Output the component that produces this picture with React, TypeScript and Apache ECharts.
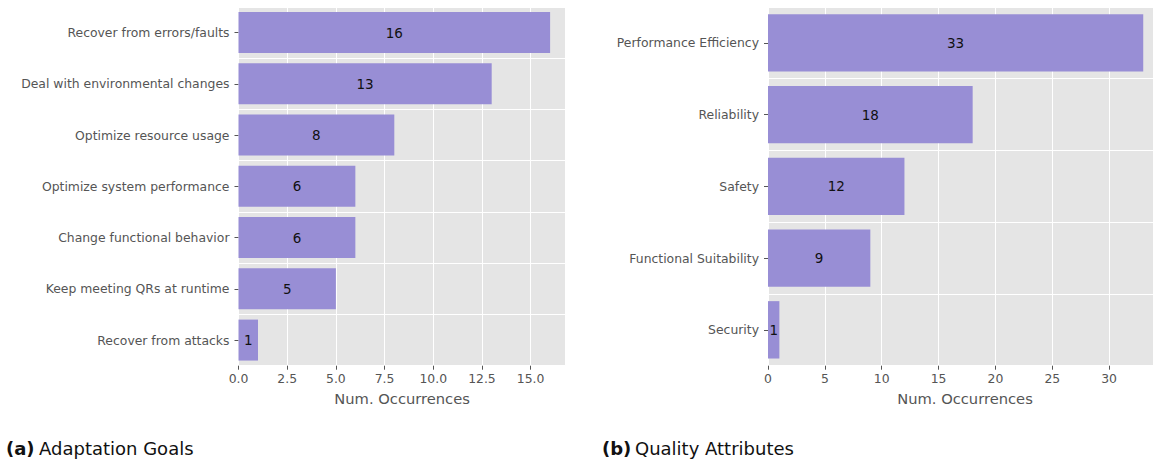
import React, { useEffect, useRef } from "react";
import * as echarts from "echarts";

const goalCategories = [
  "Recover from errors/faults",
  "Deal with environmental changes",
  "Optimize resource usage",
  "Optimize system performance",
  "Change functional behavior",
  "Keep meeting QRs at runtime",
  "Recover from attacks",
];
const goalValues = [16, 13, 8, 6, 6, 5, 1];

const qaCategories = [
  "Performance Efficiency",
  "Reliability",
  "Safety",
  "Functional Suitability",
  "Security",
];
const qaValues = [33, 18, 12, 9, 1];

const xAxisName = "Num. Occurrences";
const captionA = ["(a)", "Adaptation Goals"];
const captionB = ["(b)", "Quality Attributes"];

const BAR = "#988ED5";
const BG = "#E5E5E5";
const TXT = "#555555";
const FONT = "DejaVu Sans";

export default function App() {
  const ref = useRef<HTMLDivElement>(null);
  useEffect(() => {
    if (!ref.current) return;
    const chart = echarts.init(ref.current, null, { renderer: "svg" });
    const goalMax = Math.max(...goalValues) * 1.05;
    // right panel is cropped at the page edge: full plot would be 394px wide, only 385px visible
    const qaFullWidth = 394;
    const qaVisibleWidth = 385;
    const qaMax = Math.max(...qaValues) * 1.05 * (qaVisibleWidth / qaFullWidth);

    const xAxisCommon = (gridIndex: number, max: number, interval: number, fmt: (v: number) => string, nameShift: number) => ({
      type: "value",
      gridIndex,
      min: 0,
      max,
      interval,
      name: xAxisName,
      nameLocation: "middle",
      nameGap: 25,
      nameTextStyle: { color: TXT, fontSize: 14.7, fontFamily: FONT, padding: [0, 0, 0, nameShift] },
      axisLine: { show: false },
      axisTick: { show: true, length: 4, lineStyle: { color: TXT, width: 1 } },
      axisLabel: {
        color: TXT,
        fontSize: 12.4,
        fontFamily: FONT,
        margin: 7,
        showMaxLabel: false,
        formatter: (v: number) => fmt(v),
      },
      splitLine: { show: true, lineStyle: { color: "#ffffff", width: 1 } },
    });

    const yAxisCommon = (gridIndex: number, data: string[]) => ({
      type: "category",
      gridIndex,
      data,
      inverse: true,
      axisLine: { show: false },
      axisTick: { show: true, length: 4, alignWithLabel: true, lineStyle: { color: TXT, width: 1 } },
      axisLabel: { color: TXT, fontSize: 12.4, fontFamily: FONT, margin: 9 },
      splitLine: { show: true, lineStyle: { color: "#ffffff", width: 1 } },
    });

    const labelStyle = {
      show: true,
      position: "inside",
      color: "#111111",
      fontSize: 13.5,
      fontFamily: FONT,
    };

    const capText = (x: number, text: string, bold: boolean) => ({
      type: "text",
      x,
      y: 448,
      style: {
        text,
        fontFamily: FONT,
        fontSize: 18,
        fontWeight: bold ? "bold" : "normal",
        fill: "#111111",
        verticalAlign: "middle",
        align: "left",
      },
    });

    chart.setOption({
      animation: false,
      grid: [
        { left: 238.5, top: 7, width: 327.2, height: 358.7, show: true, backgroundColor: BG, borderWidth: 0 },
        { left: 768, top: 7, width: qaVisibleWidth, height: 358.7, show: true, backgroundColor: BG, borderWidth: 0 },
      ],
      xAxis: [
        xAxisCommon(0, goalMax, 2.5, (v) => v.toFixed(1), 0),
        xAxisCommon(1, qaMax, 5, (v) => String(v), 9),
      ],
      yAxis: [yAxisCommon(0, goalCategories), yAxisCommon(1, qaCategories)],
      series: [
        {
          type: "bar",
          xAxisIndex: 0,
          yAxisIndex: 0,
          data: goalValues,
          barWidth: "80%",
          itemStyle: { color: BAR },
          label: labelStyle,
        },
        {
          type: "bar",
          xAxisIndex: 1,
          yAxisIndex: 1,
          data: qaValues,
          barWidth: "80%",
          itemStyle: { color: BAR },
          label: labelStyle,
        },
      ],
      graphic: [
        capText(6, captionA[0], true),
        capText(39, captionA[1], false),
        capText(602, captionB[0], true),
        capText(635, captionB[1], false),
      ],
    });
    return () => chart.dispose();
  }, []);
  return (
    <div
      ref={ref}
      style={{ position: "absolute", left: 0, top: 0, width: 1153, height: 460, background: "#ffffff" }}
    />
  );
}
